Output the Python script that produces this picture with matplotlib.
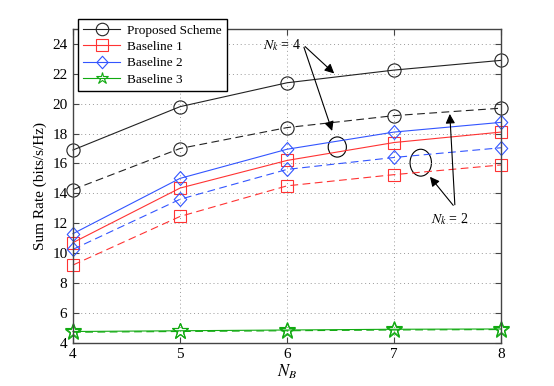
import matplotlib
matplotlib.use("Agg")
import matplotlib.pyplot as plt
from matplotlib.patches import Ellipse
from matplotlib.path import Path

# N_B values
nb = [4, 5, 6, 7, 8]

# Sum rate, N_k = 4 (solid) and N_k = 2 (dashed)
proposed_4 = [16.9, 19.8, 21.4, 22.25, 22.9]
proposed_2 = [14.25, 17.0, 18.4, 19.2, 19.7]
base1_4 = [10.7, 14.35, 16.2, 17.4, 18.1]
base1_2 = [9.2, 12.45, 14.5, 15.25, 15.9]
base2_4 = [11.3, 15.0, 16.95, 18.1, 18.75]
base2_2 = [10.25, 13.6, 15.6, 16.4, 17.05]
base3_4 = [4.75, 4.8, 4.85, 4.9, 4.92]
base3_2 = [4.7, 4.75, 4.8, 4.85, 4.88]

labels = ["Proposed Scheme", "Baseline 1", "Baseline 2", "Baseline 3"]

plt.rcParams['font.family'] = ['Liberation Serif', 'DejaVu Serif']
plt.rcParams['mathtext.fontset'] = 'stix'

fig = plt.figure(figsize=(5.54, 3.86), dpi=100)
ax = fig.add_axes([73 / 554, 43.3 / 386, 428 / 554, 313.7 / 386])

black = '#222222'
red = '#ff3333'
blue = '#3355ff'
green = '#11aa11'

# MATLAB-like diamond, slightly taller than wide
diamond = Path([(0, 1), (0.9, 0), (0, -1), (-0.9, 0), (0, 1)],
               [Path.MOVETO, Path.LINETO, Path.LINETO, Path.LINETO, Path.CLOSEPOLY])

styles = [
    (proposed_4, proposed_2, black, 'o', 9.5),
    (base1_4, base1_2, red, 's', 8),
    (base2_4, base2_2, blue, diamond, 10),
    (base3_4, base3_2, green, '*', 12),
]

handles = []
for (s4, s2, c, m, ms), lab in zip(styles, labels):
    h, = ax.plot(nb, s4, color=c, lw=0.8, marker=m, ms=ms, mfc='none',
                 mec=c, mew=0.8, label=lab, clip_on=False)
    ax.plot(nb, s2, color=c, lw=0.8, ls=(0, (7, 4)), marker=m, ms=ms,
            mfc='none', mec=c, mew=0.8, clip_on=False)
    handles.append(h)

ax.set_xlim(4, 8)
ax.set_ylim(4, 25)
ax.set_xticks(nb)
ax.set_yticks(range(4, 25, 2))
ax.grid(True, ls=(0, (1, 3)), color='#999999', lw=0.7)
ax.tick_params(direction='in', top=True, right=True, labelsize=11,
               length=4, color='#444444', pad=4)
for sp in ax.spines.values():
    sp.set_color('#444444')
    sp.set_linewidth(1.0)

ax.set_xlabel('$N_B$', fontsize=12, labelpad=1)
ax.set_ylabel('Sum Rate (bits/s/Hz)', fontsize=11)

leg = ax.legend(handles=handles, loc='upper left',
                bbox_to_anchor=(78 / 554, 367 / 386),
                bbox_transform=fig.transFigure, fontsize=9.5,
                fancybox=False, framealpha=1, edgecolor='black',
                handlelength=2.8, labelspacing=0.32, borderpad=0.4,
                handletextpad=0.5, borderaxespad=0)
leg.get_frame().set_linewidth(1.0)
for lh in leg.get_lines():
    lh.set_markersize(9)

# N_k = 4 annotation
ax.text(6.13, 23.95, r'$N_k$ = 4', fontsize=10, ha='right', va='center')
arr = dict(arrowstyle='-|>', color='black', lw=0.8, mutation_scale=14)
ax.annotate('', xy=(6.46, 21.9), xytext=(6.15, 23.95), arrowprops=arr)
ax.annotate('', xy=(6.43, 18.0), xytext=(6.15, 23.95), arrowprops=arr)
ax.add_patch(Ellipse((6.47, 17.1), 0.17, 1.35, fill=False, ec='black', lw=0.8))

# N_k = 2 annotation
ax.add_patch(Ellipse((7.25, 16.05), 0.2, 1.8, fill=False, ec='black', lw=0.8))
ax.annotate('', xy=(7.52, 19.5), xytext=(7.57, 13.05), arrowprops=arr)
ax.annotate('', xy=(7.32, 15.25), xytext=(7.57, 13.05), arrowprops=arr)
ax.text(7.52, 12.3, r'$N_k$ = 2', fontsize=10, ha='center', va='center')

fig.savefig('out.png', dpi=100)
